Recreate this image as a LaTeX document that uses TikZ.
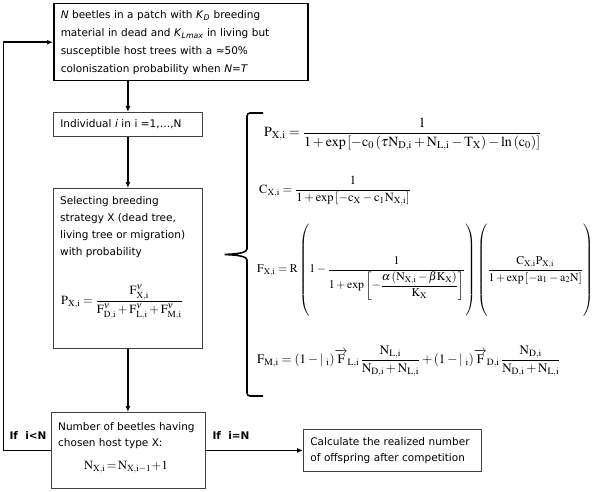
\documentclass[tikz,border=0pt]{standalone}
\usepackage{mathptmx}
\usepackage{amsmath}
\usepackage[no-math]{fontspec}
\newfontfamily\boxfont{DejaVu Sans}
\usetikzlibrary{arrows.meta}

\begin{document}
\begin{tikzpicture}[x=1pt, y=-1pt,
		every node/.style={inner sep=0pt, font=\boxfont\fontsize{10.5}{17}\selectfont},
		stepbox/.style={draw=black!75, line width=0.8pt},
		flow/.style={line width=1.6pt, -{Latex[length=6pt, width=5pt]}},
		eqn/.style={anchor=west, font=\fontsize{#1}{#1}\selectfont}]
	\useasboundingbox (0,0) rectangle (594,492);

	\node (patch) at (53,3) [stepbox, draw=black, line width=1.5pt, anchor=north west, minimum width=254pt, minimum height=77pt, text width=240pt, inner xsep=7pt, align=left, font=\boxfont\fontsize{10.5}{18}\selectfont] {\textit{N} beetles in a patch with \textit{K}\textsubscript{\textit{D}} breeding\\material in dead and \textit{K}\textsubscript{\textit{Lmax}} in living but\\susceptible host trees with a ≈50\%\\coloniszation probability when \textit{N}=\textit{T}};
	\node (indiv) at (53,112) [stepbox, anchor=north west, minimum width=149pt, minimum height=24pt, text width=135pt, inner xsep=7pt, align=left] {Individual \textit{i} in i =1,…,N};
	\node (select) at (53,188) [stepbox, anchor=north west, minimum width=149pt, minimum height=160pt] {};
	\node (selecttext) at (60,196) [anchor=north west, align=left] {Selecting breeding\\strategy X (dead tree,\\living tree or migration)\\with probability};
	\node (selecteq) at (122,302) [font=\fontsize{12.5}{12.5}\selectfont] {$\mathrm{P_{X,i}}=\dfrac{\mathrm{F^{\nu}_{X,i}}}{\mathrm{F^{\nu}_{D,i}+F^{\nu}_{L,i}+F^{\nu}_{M,i}}}$};
	\node (count) at (50.5,412) [stepbox, anchor=north west, minimum width=154pt, minimum height=76pt] {};
	\node (counttext) at (58,422) [anchor=north west, align=left, font=\boxfont\fontsize{10.5}{16}\selectfont] {Number of beetles having\\chosen host type X:};
	\node (counteq) at (126,467) [font=\fontsize{12.5}{12.5}\selectfont] {$\mathrm{N_{X,i}}\!=\!\mathrm{N_{X,i-1}}\!+\!1$};
	\node (calc) at (303,429) [stepbox, anchor=north west, minimum width=178pt, minimum height=42pt, text width=164pt, inner xsep=7pt, align=left, font=\boxfont\fontsize{10.5}{16.5}\selectfont] {Calculate the realized number\\of offspring after competition};

	\node (lessN) at (28,436) [font=\boxfont\bfseries\fontsize{10.5}{12}\selectfont] {If\ \ i<N};
	\node (equalN) at (231,436) [font=\boxfont\bfseries\fontsize{10.5}{12}\selectfont] {If\ \ i=N};

	\draw[flow] (indiv.north |- patch.south) -- (indiv.north);
	\draw[flow] (indiv) -- (select);
	\draw[flow] (select) -- (count);
	\draw[flow] (count.west) -- ++(-47,0) |- (patch.west);
	\draw[flow] (count.east) -- (calc.west);

	\draw[line width=1.6pt, rounded corners=3pt] (263,113) -- (247,113) -- (247,246) .. controls (247,252) and (240,254) .. (223,254.5) .. controls (240,255) and (247,257) .. (247,263) -- (247,396) -- (263,396);

	\node (pxi) at (264,134) [eqn=14] {$\mathrm{P_{X,i}}=\dfrac{1}{1+\exp\left[-\mathrm{c_0}\left(\tau\mathrm{N_{D,i}}+\mathrm{N_{L,i}}-\mathrm{T_X}\right)-\ln\left(\mathrm{c_0}\right)\right]}$};
	\node (cxi) at (259,191) [eqn=12.5] {$\mathrm{C_{X,i}}=\dfrac{1}{1+\exp\left[-\mathrm{c_X}-\mathrm{c_1N_{X,i}}\right]}$};
	\node (fxi) at (257,270) [eqn=11.8] {$\mathrm{F_{X,i}}=\mathrm{R}\left(\rule[-42pt]{0pt}{90pt}1-\dfrac{1}{1+\exp\left[-\dfrac{\alpha\left(\mathrm{N_{X,i}}-\beta\mathrm{K_X}\right)}{\mathrm{K_X}}\right]}\right)\left(\rule[-42pt]{0pt}{90pt}\dfrac{\mathrm{C_{X,i}P_{X,i}}}{1+\exp\left[-\mathrm{a_1}-\mathrm{a_2N}\right]}\right)$};
	\node (fmi) at (257,361) [eqn=13] {$\mathrm{F_{M,i}}=(1-{|}\;_{\mathrm{i}})\overrightarrow{\mathrm{F}}_{\mathrm{L,i}}\,\dfrac{\mathrm{N_{L,i}}}{\mathrm{N_{D,i}}+\mathrm{N_{L,i}}}+(1-{|}\;_{\mathrm{i}})\overrightarrow{\mathrm{F}}_{\mathrm{D,i}}\,\dfrac{\mathrm{N_{D,i}}}{\mathrm{N_{D,i}}+\mathrm{N_{L,i}}}$};
\end{tikzpicture}
\end{document}
